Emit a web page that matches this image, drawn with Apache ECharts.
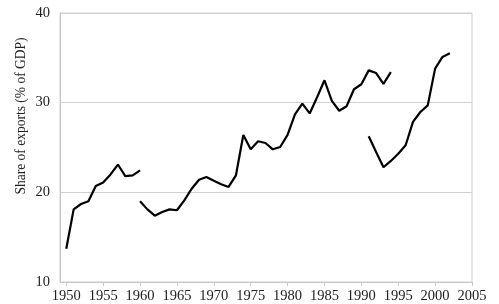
<!DOCTYPE html>
<html>
<head>
<meta charset="utf-8">
<script src="https://cdn.jsdelivr.net/npm/echarts@6/dist/echarts.min.js"></script>
<style>html,body{margin:0;padding:0;background:#fff}#c{width:499px;height:304px}</style>
</head>
<body>
<div id="c"></div>
<script>
var years1 = [1950,1951,1952,1953,1954,1955,1956,1957,1958,1959,1960];
var vals1  = [13.7,18.1,18.7,19.0,20.7,21.1,22.0,23.1,21.8,21.9,22.45];
var years2 = [1960,1961,1962,1963,1964,1965,1966,1967,1968,1969,1970,1971,1972,1973,1974,1975,1976,1977,1978,1979,1980,1981,1982,1983,1984,1985,1986,1987,1988,1989,1990,1991,1992,1993,1994];
var vals2  = [19.0,18.1,17.4,17.8,18.1,18.0,19.1,20.4,21.4,21.7,21.3,20.9,20.6,21.9,26.4,24.8,25.7,25.5,24.8,25.05,26.4,28.7,29.9,28.8,30.6,32.5,30.2,29.1,29.6,31.5,32.05,33.6,33.3,32.1,33.4];
var years3 = [1991,1992,1993,1994,1995,1996,1997,1998,1999,2000,2001,2002];
var vals3  = [26.25,24.5,22.8,23.5,24.3,25.25,27.85,28.96,29.7,33.8,35.1,35.5];
var xTicks = [1950,1955,1960,1965,1970,1975,1980,1985,1990,1995,2000,2005];
var yTitle = 'Share of exports (% of GDP)';

function pairs(xs, ys){ return xs.map(function(x,i){ return [x, ys[i]]; }); }
var font = 'Liberation Serif';
function line(xs, ys){
  return {type:'line', data:pairs(xs,ys), showSymbol:false, symbol:'none',
    lineStyle:{color:'#000', width:2.2}, itemStyle:{color:'#000'}, animation:false, z:5};
}
var chart = echarts.init(document.getElementById('c'), null, {renderer:'canvas'});
chart.setOption({
  animation:false,
  grid:{left:60, right:27, top:13, bottom:22, show:true, borderColor:'#d0d0d0', borderWidth:1, backgroundColor:'transparent'},
  graphic:[{type:'text', x:21, y:116, rotation:Math.PI/2, scaleX:0.9, scaleY:1,
    style:{text:yTitle, fill:'#222', font:'15px "Liberation Serif"', align:'center', verticalAlign:'middle'}}],
  xAxis:{type:'value', min:1949.15, max:2005,
    axisLine:{show:true, lineStyle:{color:'#c8c8c8', width:1}},
    axisTick:{show:true, customValues:xTicks, length:4, inside:false, lineStyle:{color:'#c8c8c8'}},
    axisLabel:{customValues:xTicks, color:'#222', fontFamily:font, fontSize:14.5, margin:7,
      formatter:function(v){ return String(Math.round(v)); }},
    splitLine:{show:false}},
  yAxis:{type:'value', min:10, max:40, interval:10,
    axisLine:{show:true, lineStyle:{color:'#c8c8c8', width:1}},
    axisTick:{show:false},
    axisLabel:{color:'#222', fontFamily:font, fontSize:14.5, margin:10},
    splitLine:{show:true, lineStyle:{color:'#d0d0d0', width:1}}},
  series:[line(years1,vals1), line(years2,vals2), line(years3,vals3)]
});
</script>
</body>
</html>
